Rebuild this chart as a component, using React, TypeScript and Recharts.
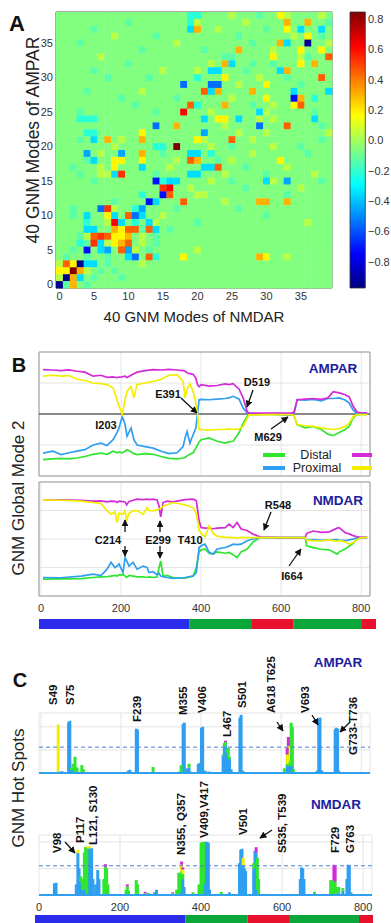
import React from "react";
import {
  Bar,
  BarChart,
  CartesianGrid,
  Line,
  LineChart,
  ReferenceArea,
  ReferenceLine,
  Scatter,
  ScatterChart,
  XAxis,
  YAxis,
} from "recharts";

const FONT = "'Liberation Sans', Arial, sans-serif";
const C_GREEN = "#2ee62e";
const C_BLUE = "#2f9ff0";
const C_MAGENTA = "#d42ad8";
const C_YELLOW = "#f2ee00";
const C_TITLE = "#1c1ca0";

// ---------- panel A: overlap of 40 GNM modes (rows listed from mode 39 down to mode 0)
const HEAT_CODES = "abcdefghijklmno";
const HEAT_LEVELS = [-0.95, -0.72, -0.55, -0.45, -0.35, -0.22, -0.13, -0.06, 0.04, 0.18, 0.3, 0.45, 0.53, 0.62, 0.85];
const HEAT_ROWS = [
  "hhhhh hhhhh hhhhh hhhhf fhhhh ihhhg hhjih hhhih",
  "hhhhh hhhhh ghhhh hhhhf ihhhh hhihh hhhkh hkhhg",
  "hhhhh ghhhh hhhhh hhhhe khhih hhhhh ghhjh ehheh",
  "hhhhh hhhih hhhhg hhhhh hhhhh hghhh hhhhi hjhgh",
  "hhhgh hhhhh hhhhh hhihh hhhhh hhhgh hhkeh hahhi",
  "hhhhh hhhhh hhghh hhhhh hghhh hkhhh hihhh jhhjh",
  "hhhhh hihhh hhhhh hhhhh hhhhg ghhhh hjhhh ighhl",
  "hhhhh hhhhh ghhhh hhhhh hhihk ehhgh hghhh jhkhh",
  "hhhhh ghhhh hhhhh ihhhh iheeh hhghh hhekh hhhhh",
  "hhhhh hhghh hhhgh hhhhh fhhhj hhhhi hhhgh hhhlh",
  "hhhhh hhhhh hhhhh hhhch hhcch hihhh jhhhh ghhhh",
  "hhhhg hhhhh hhihh hhhhh hlekh hhhkh hhhhe hhhhe",
  "hhhhh hhhhg hhhhh hhghh hhhhh ihhhh jhhhb khfhh",
  "hhhhh hhhhh hghhh hhhhl fhhhk hhhgh hihhj lhhhh",
  "hhhgh hhhhh hhhhg hhhnh hhihh hhhhe ihhhh hhghh",
  "hhhff fhhhh hhhhh hhhhh hehjj hehhi hihhh hhehh",
  "hhhhh hhhhh hhhhc hhkhh hhhhi hhhhc hhhlh hhhgh",
  "hhhhf fhhhh hhjhh hhhhh hdhhh hihhh ihhhh hhhhi",
  "hhhgh ehkhi hhkhh hhhhh jihhh lhhih hhhhh hhhgh",
  "hhhhh hhhih hhhhf fhohh hhihh ghhhh hihhh ghhhh",
  "hhhhd hihhd hhkhh ghhhe ehfhh hhhih hhhhh hghhh",
  "hhhhg ehhjj hhjhh hhihl khhgh ihhhh hhjhh hhhhh",
  "hhghh hihjh hhehh hihhh heelh hhghh hhhih hhhhh",
  "hhhgh hiiem hhhhg hhhhe ehhhi hhhhh ghhhh hhihh",
  "hhhhh ghhhh hhhhb feehh hhihh ghhhh eihdh hhhgh",
  "hhhhh hhhhh hhhhh mnhhi hhhhh hhghh hhhhh ihhhh",
  "hhhhh hhhhh hhfhh blhhh iihhh hhhhh hhhgh hhhhh",
  "hhhhh hhhgh hhhbe hhhlh hhhhi hhhhk khhkh hhhhh",
  "hhghh hcmih hfdhh hhghh hhhhh hghhh hhhhh hhhhh",
  "hhghe hhjeh lcehh ihhhh hhhhh hhhhh ghhhh hhhhh",
  "hhhhf hhine hfhei hhhhh ghhhh hhhhh hhhhh hihhh",
  "hhhhe ehhkj llgle hghhh hhhhh hhhhh hhhhh hhhhh",
  "hhhgi lmljj khihg hhhhh hhhhh hhhhh hhhhh hhhhh",
  "hhhfg meijk lhihg hhhhh hhhhh hhhhh hhhhh hhhhh",
  "hhghb hedhl dihgh hhhhh ihhhh hhhhh hhhhh hhhhh",
  "hghhg hhghh echlf hhhjh hhhhh hhhhk jhhih hhhhh",
  "iljae ehghh hhihh hhhhh hhhhh hhhhh hhhhh hhhhh",
  "jjoki hghgh hhhhh hhhhh hhhhh hhhhh hhhhh hhhhh",
  "iakeh ghhhg hhhhh hhhhh hhhhh hhhhh hhhhh hhhhh",
  "agkhg hhhhh hhhhh hhhhh hhhhh hhhhh hhhhh hhhhh",
];
const HEAT_TICKS = [0, 5, 10, 15, 20, 25, 30, 35];
const CBAR_RANGE = [-0.973, 0.847];
const CBAR_TICKS = [-0.8, -0.6, -0.4, -0.2, 0, 0.2, 0.4, 0.6, 0.8];

// ---------- panel B: GNM global mode 2
const B_AMPAR_RES = [5, 30, 50, 70, 90, 110, 130, 150, 165, 180, 190, 195, 203, 210, 215, 225, 232, 240, 260, 280, 300, 320, 340, 355, 360, 365, 372, 380, 387, 391, 395, 400, 420, 440, 460, 470, 480, 495, 505, 515, 520, 560, 600, 625, 632, 640, 660, 680, 700, 717, 730, 745, 760, 770, 780, 790, 800, 815];
const B_AMPAR_MAGENTA = [1.43, 1.42, 1.4, 1.42, 1.38, 1.35, 1.22, 1.25, 1.18, 1.2, 1.17, 1.19, 1.2, 1.22, 1.18, 1.25, 1.3, 1.35, 1.4, 1.43, 1.42, 1.44, 1.42, 1.4, 1.38, 1.33, 1.3, 1.28, 1.15, 0.95, 0.88, 0.95, 0.9, 0.92, 0.97, 0.95, 0.98, 0.8, 0.52, 0.08, 0.03, 0.03, 0.03, 0.03, 0.05, 0.46, 0.48, 0.5, 0.47, 0.52, 0.72, 0.68, 0.62, 0.55, 0.25, 0.06, 0.04, 0.04];
const B_AMPAR_YELLOW = [1.22, 1.25, 1.22, 1.24, 1.12, 1.08, 1.0, 0.98, 0.95, 0.84, 0.46, 0.25, 0.0, 0.46, 0.73, 0.89, 0.52, 0.95, 1.0, 1.05, 1.12, 1.25, 1.27, 1.05, 0.52, 0.8, 0.97, 0.73, 0.35, 0.0, -0.5, -0.5, -0.52, -0.5, -0.5, -0.48, -0.5, -0.48, -0.4, -0.15, -0.03, -0.02, -0.02, -0.02, -0.05, -0.34, -0.38, -0.4, -0.45, -0.48, -0.5, -0.47, -0.4, -0.3, -0.08, -0.02, -0.02, -0.02];
const B_AMPAR_BLUE = [-1.26, -1.2, -1.31, -1.25, -1.2, -1.15, -1.0, -0.94, -1.02, -0.83, -0.6, -0.45, -0.08, -0.34, -0.72, -0.45, -0.83, -1.0, -1.05, -1.1, -1.2, -1.28, -1.25, -1.05, -0.77, -0.56, -0.94, -0.67, -0.45, 0.0, 0.46, 0.47, 0.46, 0.48, 0.5, 0.52, 0.57, 0.48, 0.19, 0.03, 0.01, 0.0, -0.02, -0.04, 0.0, 0.46, 0.45, 0.47, 0.42, 0.5, 0.5, 0.52, 0.45, 0.35, 0.12, 0.02, 0.01, 0.01];
const B_AMPAR_GREEN = [-1.47, -1.45, -1.43, -1.45, -1.42, -1.37, -1.3, -1.26, -1.3, -1.2, -1.25, -1.22, -1.25, -1.2, -1.15, -1.22, -1.28, -1.31, -1.28, -1.3, -1.37, -1.43, -1.45, -1.42, -1.4, -1.35, -1.3, -1.25, -1.1, -1.0, -0.9, -0.83, -0.77, -0.88, -0.94, -0.9, -0.88, -0.6, -0.3, -0.08, -0.02, -0.01, -0.01, -0.01, -0.05, -0.34, -0.45, -0.4, -0.5, -0.65, -0.7, -0.6, -0.5, -0.4, -0.12, -0.02, -0.01, -0.01];

const B_NMDAR_RES = [5, 50, 100, 130, 150, 165, 175, 185, 190, 195, 205, 210, 214, 220, 230, 240, 255, 265, 270, 280, 290, 295, 299, 305, 315, 330, 360, 380, 388, 395, 400, 410, 420, 430, 440, 460, 470, 480, 490, 500, 515, 530, 548, 600, 660, 664, 680, 700, 720, 740, 745, 760, 770, 780, 790, 800, 815];
const B_NMDAR_MAGENTA = [1.37, 1.37, 1.36, 1.33, 1.34, 1.3, 1.33, 1.32, 1.28, 1.33, 1.31, 1.3, 1.2, 1.32, 1.36, 1.4, 1.38, 1.4, 1.38, 1.4, 1.37, 1.15, 0.78, 1.28, 1.33, 1.3, 1.38, 1.4, 1.35, 0.64, 0.4, 0.38, 0.38, 0.36, 0.38, 0.4, 0.52, 0.4, 0.58, 0.35, 0.3, 0.17, 0.07, 0.05, 0.05, 0.2, 0.28, 0.23, 0.25, 0.38, 0.4, 0.22, 0.18, 0.12, 0.08, 0.06, 0.06];
const B_NMDAR_YELLOW = [1.37, 1.36, 1.33, 1.28, 1.25, 0.99, 0.87, 0.95, 0.58, 0.9, 0.87, 1.0, 0.64, 0.9, 0.99, 1.0, 0.87, 1.1, 1.0, 0.99, 1.02, 1.05, 1.08, 1.15, 1.2, 1.28, 1.2, 1.1, 0.9, 0.3, 0.2, 0.08, 0.46, 0.2, 0.1, 0.06, 0.06, 0.05, 0.04, 0.06, 0.05, 0.05, 0.05, 0.05, 0.05, -0.04, -0.06, -0.07, -0.03, -0.08, -0.05, -0.1, -0.18, -0.12, -0.02, 0.05, 0.06];
const B_NMDAR_BLUE = [-1.35, -1.36, -1.3, -1.23, -1.28, -1.06, -0.82, -1.0, -0.95, -0.88, -1.18, -0.65, -0.77, -0.95, -0.82, -1.06, -0.95, -1.0, -1.18, -1.15, -1.25, -1.2, -1.3, -1.32, -1.35, -1.38, -1.35, -1.3, -1.18, -0.3, -0.24, -0.18, -0.47, -0.53, -0.35, -0.3, -0.25, -0.18, -0.2, -0.18, -0.06, 0.0, 0.05, 0.05, 0.05, -0.03, -0.02, -0.05, -0.03, -0.02, -0.04, -0.06, -0.03, 0.0, 0.04, 0.06, 0.06];
const B_NMDAR_GREEN = [-1.41, -1.4, -1.39, -1.35, -1.33, -1.32, -1.3, -1.28, -1.3, -1.26, -1.25, -1.3, -1.35, -1.28, -1.3, -1.33, -1.33, -1.35, -1.33, -1.35, -1.33, -1.0, -0.77, -1.3, -1.28, -1.35, -1.37, -1.3, -1.0, -0.45, -0.38, -0.36, -0.5, -0.53, -0.45, -0.5, -0.47, -0.55, -0.65, -0.45, -0.35, -0.1, 0.05, 0.05, 0.05, -0.24, -0.3, -0.36, -0.38, -0.53, -0.45, -0.35, -0.25, -0.15, 0.0, 0.05, 0.06];

// ---------- panel C: GNM hot spots (stack: proximal-blue, distal-green, yellow, magenta)
const HS_AMPAR_RES = [43, 52, 69, 72, 76, 80, 85, 90, 102, 106, 218, 222, 238, 241, 280, 330, 345, 350, 355, 358, 365, 370, 374, 393, 398, 401, 404, 410, 420, 455, 458, 461, 464, 468, 471, 475, 497, 500, 504, 530, 608, 615, 618, 621, 625, 628, 631, 690, 694, 697, 700, 705, 735, 738, 741, 744];
const HS_AMPAR_BLUE = [0.03, 0.04, 1.1, 1.13, 0.06, 0.12, 0.03, 0, 0, 0, 0.05, 0.07, 0.96, 0.94, 0, 0, 0, 0.02, 1.06, 1.09, 0.1, 0.12, 0, 0.2, 0.22, 0.98, 1.0, 0.05, 0.03, 0.38, 0.55, 0.62, 0.45, 0.35, 0.3, 0.08, 1.2, 1.26, 0.05, 0, 0, 0.15, 0.2, 0.15, 0.2, 0.15, 0.03, 0.05, 1.18, 1.2, 0.06, 0.03, 0.95, 0.98, 0.96, 0.05];
const HS_AMPAR_GREEN = [0, 0, 0, 0, 0.05, 0.08, 0.32, 0.12, 0.17, 0.08, 0, 0, 0, 0, 0.13, 0.02, 0.03, 0.15, 0, 0, 0, 0.08, 0.03, 0, 0, 0, 0, 0, 0, 0.02, 0.1, 0.05, 0.05, 0.2, 0.05, 0, 0, 0, 0, 0.02, 0.1, 0.05, 0.05, 0.05, 0.89, 0.85, 0.05, 0, 0, 0, 0, 0, 0, 0, 0, 0];
const HS_AMPAR_YELLOW = [1.02, 0, 0, 0, 0, 0, 0, 0, 0, 0, 0, 0, 0, 0, 0, 0, 0, 0, 0, 0, 0, 0, 0, 0, 0, 0, 0, 0, 0, 0, 0, 0, 0, 0, 0, 0, 0, 0, 0, 0, 0, 0.2, 0.33, 0, 0, 0, 0, 0, 0, 0, 0, 0, 0, 0, 0, 0];
const HS_AMPAR_MAGENTA = [0, 0, 0, 0, 0, 0, 0, 0, 0, 0, 0, 0, 0, 0, 0, 0, 0, 0, 0, 0, 0, 0, 0, 0, 0, 0, 0, 0, 0, 0, 0, 0.03, 0, 0, 0, 0, 0, 0, 0, 0, 0, 0.15, 0.2, 0, 0, 0, 0, 0, 0, 0, 0, 0, 0, 0, 0, 0];

const HS_NMDAR_RES = [38, 42, 92, 96, 99, 103, 107, 112, 115, 118, 121, 124, 127, 130, 133, 140, 145, 148, 160, 164, 167, 170, 215, 218, 221, 240, 243, 262, 270, 285, 290, 330, 340, 345, 348, 352, 355, 358, 380, 395, 400, 403, 406, 409, 412, 415, 418, 421, 450, 470, 495, 498, 501, 504, 507, 510, 530, 533, 536, 539, 542, 645, 648, 651, 654, 680, 720, 724, 728, 731, 735, 740, 750, 760, 763, 766, 770];
const HS_NMDAR_BLUE = [0.22, 0.23, 0.2, 0.79, 0.5, 0.25, 0.1, 0.1, 0.3, 0, 0.88, 0.88, 0.75, 0.88, 0.3, 0.2, 0.47, 0.3, 0, 0, 0, 0, 0, 0, 0, 0, 0, 0, 0, 0.05, 0.1, 0, 0, 0, 0.05, 0.4, 0.3, 0.15, 0, 0, 0, 0, 0.2, 1.0, 1.0, 1.0, 0.98, 0.1, 0, 0.05, 0.6, 0.85, 0.87, 0.55, 0.5, 0.45, 0.5, 0.83, 0.8, 0.1, 0, 0.3, 0.52, 0.5, 0.3, 0, 0, 0, 0, 0, 0, 0.05, 0.08, 0.3, 0.57, 0.55, 0.05];
const HS_NMDAR_GREEN = [0, 0, 0, 0, 0, 0.1, 0.2, 0.7, 0.6, 0.9, 0, 0, 0, 0, 0, 0, 0, 0, 0.3, 0.53, 0.5, 0.2, 0.1, 0.16, 0.08, 0.28, 0.2, 0.03, 0.04, 0, 0, 0.03, 0.1, 0.42, 0.35, 0.05, 0.1, 0, 0.05, 0.2, 0.98, 1.0, 0.8, 0, 0, 0, 0, 0, 0.06, 0, 0, 0, 0, 0, 0, 0, 0.1, 0, 0, 0.6, 0.3, 0, 0, 0, 0, 0.06, 0.28, 0.28, 0.28, 0.25, 0.15, 0.1, 0.05, 0, 0, 0, 0];
const HS_NMDAR_YELLOW = [0, 0, 0, 0.06, 0, 0, 0, 0, 0, 0, 0.04, 0.04, 0, 0, 0, 0, 0, 0, 0, 0, 0, 0, 0, 0, 0, 0, 0, 0, 0, 0, 0, 0, 0, 0, 0, 0.12, 0.08, 0, 0, 0, 0, 0, 0, 0, 0, 0, 0, 0, 0, 0, 0, 0, 0, 0.15, 0, 0, 0, 0, 0, 0, 0, 0, 0, 0, 0, 0, 0, 0, 0, 0, 0, 0, 0, 0, 0, 0, 0];
const HS_NMDAR_MAGENTA = [0, 0, 0, 0, 0, 0, 0, 0, 0, 0, 0, 0, 0, 0, 0, 0, 0, 0, 0, 0.05, 0, 0, 0, 0.04, 0, 0, 0, 0.03, 0, 0, 0, 0.02, 0, 0, 0, 0.06, 0.04, 0, 0, 0, 0, 0, 0, 0, 0, 0, 0, 0, 0, 0, 0, 0, 0, 0, 0, 0, 0, 0, 0.1, 0, 0, 0, 0, 0, 0, 0, 0, 0, 0.29, 0.3, 0, 0, 0, 0, 0, 0, 0];

// domain map strip under panels B and C
const DOMAIN_LENGTHS = [375, 155, 105, 172, 35];
const DOMAIN_COLORS = ["#2b2bea", "#0aa83a", "#e8112d", "#0aa83a", "#e8112d"];
const AXIS_TICKS = [0, 200, 400, 600, 800];

// ---------- helpers
function jet(v: number) {
  const t = Math.min(1, Math.max(0, (v - CBAR_RANGE[0]) / (CBAR_RANGE[1] - CBAR_RANGE[0])));
  const ch = (x: number) => Math.round(255 * Math.min(1, Math.max(0, 1.5 - Math.abs(x))));
  return `rgb(${ch(4 * t - 3)},${ch(4 * t - 2)},${ch(4 * t - 1)})`;
}

const heatData = HEAT_ROWS.flatMap((row, i) =>
  row
    .replace(/ /g, "")
    .split("")
    .map((code, c) => ({ x: c, y: HEAT_ROWS.length - 1 - i, v: HEAT_LEVELS[HEAT_CODES.indexOf(code)] }))
);

const CELL = 276 / 40;
const HeatCell = (props: any) => {
  const { cx, cy, payload } = props;
  return <rect x={cx - CELL / 2} y={cy - CELL / 2} width={CELL + 0.4} height={CELL + 0.4} fill={jet(payload.v)} />;
};

// hot-spot spikes: keep the library's x/height, draw at a fixed 3px width
const SPIKE_W = 3;
const Spike = (props: any) => {
  const { x, y, width, height, fill } = props;
  if (!height || height <= 0) return null;
  return <rect x={x + width / 2 - SPIKE_W / 2} y={y} width={SPIKE_W} height={height} fill={fill} />;
};

const modeRows = (res: number[], g: number[], b: number[], m: number[], y: number[]) =>
  res.map((r, i) => ({ res: r, g: g[i], b: b[i], m: m[i], y: y[i] }));

const ampMode = modeRows(B_AMPAR_RES, B_AMPAR_GREEN, B_AMPAR_BLUE, B_AMPAR_MAGENTA, B_AMPAR_YELLOW);
const nmdaMode = modeRows(B_NMDAR_RES, B_NMDAR_GREEN, B_NMDAR_BLUE, B_NMDAR_MAGENTA, B_NMDAR_YELLOW);
const ampHot = modeRows(HS_AMPAR_RES, HS_AMPAR_GREEN, HS_AMPAR_BLUE, HS_AMPAR_MAGENTA, HS_AMPAR_YELLOW);
const nmdaHot = modeRows(HS_NMDAR_RES, HS_NMDAR_GREEN, HS_NMDAR_BLUE, HS_NMDAR_MAGENTA, HS_NMDAR_YELLOW);

const domainRow = [Object.fromEntries([["k", "dom"], ...DOMAIN_LENGTHS.map((len, i) => [`s${i}`, len])])];
const DOMAIN_TOTAL = DOMAIN_LENGTHS.reduce((a, b) => a + b, 0);

const tickStyle = { fontSize: 11, fill: "#333", fontFamily: FONT };

function ModePanel({ data, top, height, bottom, showTicks, zeroLine }: any) {
  return (
    <div style={{ position: "absolute", left: 0, top }}>
      <LineChart width={391} height={height} data={data} margin={{ top: 12, right: 21, bottom, left: 39 }}>
        <CartesianGrid stroke="#e4e4e4" />
        <XAxis
          dataKey="res"
          type="number"
          domain={[-5, 822]}
          ticks={showTicks ? AXIS_TICKS : [200, 400, 600, 800]}
          hide={!showTicks}
          height={20}
          axisLine={false}
          tickLine={false}
          tick={tickStyle}
        />
        <YAxis type="number" domain={[-2, 2]} ticks={[-1, 0, 1]} hide />
        <ReferenceArea x1={-5} x2={822} y1={-2} y2={2} fill="none" stroke="#9a9a9a" />
        {zeroLine && <ReferenceLine y={0} stroke="#222" strokeWidth={1.2} />}
        <Line dataKey="g" stroke={C_GREEN} strokeWidth={1.7} dot={false} isAnimationActive={false} />
        <Line dataKey="b" stroke={C_BLUE} strokeWidth={1.7} dot={false} isAnimationActive={false} />
        <Line dataKey="m" stroke={C_MAGENTA} strokeWidth={1.7} dot={false} isAnimationActive={false} />
        <Line dataKey="y" stroke={C_YELLOW} strokeWidth={1.7} dot={false} isAnimationActive={false} />
      </LineChart>
    </div>
  );
}

function HotSpotPanel({ data, top, height, bottom, right, yMax, threshold, xDomain, showTicks }: any) {
  return (
    <div style={{ position: "absolute", left: 0, top }}>
      <BarChart width={391} height={height} data={data} margin={{ top: 13, right, bottom, left: 39 }}>
        <CartesianGrid stroke="#e4e4e4" />
        <XAxis
          dataKey="res"
          type="number"
          domain={xDomain}
          ticks={AXIS_TICKS}
          hide={!showTicks}
          height={20}
          axisLine={false}
          tickLine={false}
          tick={tickStyle}
        />
        <YAxis type="number" domain={[0, yMax]} ticks={[0.5, 1]} hide />
        <ReferenceLine y={0} stroke={C_BLUE} strokeWidth={2} />
        <ReferenceLine y={threshold} stroke="#4d7fd6" strokeDasharray="4 3" />
        <Bar dataKey="b" stackId="h" fill={C_BLUE} shape={Spike} isAnimationActive={false} />
        <Bar dataKey="g" stackId="h" fill={C_GREEN} shape={Spike} isAnimationActive={false} />
        <Bar dataKey="y" stackId="h" fill={C_YELLOW} shape={Spike} isAnimationActive={false} />
        <Bar dataKey="m" stackId="h" fill={C_MAGENTA} shape={Spike} isAnimationActive={false} />
      </BarChart>
    </div>
  );
}

function DomainStrip({ left, top, width }: any) {
  return (
    <div style={{ position: "absolute", left, top }}>
      <BarChart width={width} height={10} data={domainRow} layout="vertical" margin={{ top: 0, right: 0, bottom: 0, left: 0 }} barCategoryGap={0}>
        <XAxis type="number" domain={[0, DOMAIN_TOTAL]} hide />
        <YAxis type="category" dataKey="k" hide />
        {DOMAIN_LENGTHS.map((_, i) => (
          <Bar key={i} dataKey={`s${i}`} stackId="d" fill={DOMAIN_COLORS[i]} isAnimationActive={false} />
        ))}
      </BarChart>
    </div>
  );
}

const B_LABELS = [
  ["I203", 106, 425],
  ["E391", 168, 394],
  ["D519", 257, 382],
  ["M629", 268, 437],
  ["R548", 278, 505],
  ["I664", 292, 576],
  ["C214", 108, 540],
  ["E299", 158, 540],
  ["T410", 190, 540],
];
const ARROWS = [
  [181, 398, 197, 413],
  [253, 390, 247, 407],
  [271, 429, 288, 417],
  [271, 512, 264, 530],
  [289, 566, 301, 549],
  [125, 532, 125, 520],
  [125, 546, 125, 556],
  [160, 532, 160, 521],
  [160, 546, 160, 558],
  [277, 722, 283, 731],
  [312, 715, 318, 725],
  [350, 722, 340, 732],
  [65, 842, 75, 853],
  [272, 830, 260, 838],
];
const C_AMPAR_LABELS = [
  ["S49", 53, 705],
  ["S75", 70, 705],
  ["F239", 137, 722],
  ["M355", 183, 715],
  ["V406", 202, 713],
  ["L467", 227, 737],
  ["S501", 242, 708],
  ["A618 T625", 271, 713],
  ["V693", 305, 713],
  ["G733-T736", 353, 755],
];
const C_NMDAR_LABELS = [
  ["V98", 57, 853],
  ["P117", 80, 843],
  ["L121, S130", 93, 845],
  ["N355, Q357", 181, 855],
  ["V409,V417", 204, 838],
  ["V501", 243, 835],
  ["S535, T539", 282, 853],
  ["F729", 335, 853],
  ["G763", 350, 853],
];

function Overlay() {
  const bold = { fontFamily: FONT, fontWeight: 700, fill: "#111" } as const;
  const title = { fontFamily: FONT, fontWeight: 700, fill: C_TITLE, fontSize: 13.5 } as const;
  const axisTitle = { fontFamily: FONT, fill: "#222" } as const;
  const vtext = (t: string, x: number, y: number, size: number, style: any, anchor: "start" | "middle") => (
    <text key={t + x} transform={`translate(${x},${y}) rotate(-90)`} textAnchor={anchor} dominantBaseline="central" fontSize={size} style={style}>
      {t}
    </text>
  );
  return (
    <svg width={391} height={923} style={{ position: "absolute", left: 0, top: 0, pointerEvents: "none" }}>
      <defs>
        <marker id="ah" viewBox="0 0 10 10" refX="9" refY="5" markerWidth="7" markerHeight="7" orient="auto" markerUnits="userSpaceOnUse">
          <path d="M0,0 L10,5 L0,10 z" fill="#111" />
        </marker>
      </defs>
      <text x={17} y={31} textAnchor="middle" fontSize={22} style={bold}>A</text>
      <text x={19} y={372} textAnchor="middle" fontSize={20} style={bold}>B</text>
      <text x={20} y={687} textAnchor="middle" fontSize={20} style={bold}>C</text>

      {vtext("40 GNM Modes of AMPAR", 33, 140, 17.5, axisTitle, "middle")}
      <text x={194} y={322} textAnchor="middle" fontSize={15} style={axisTitle}>40 GNM Modes of NMDAR</text>
      {vtext("GNM Global Mode 2", 18, 498, 17, axisTitle, "middle")}
      {vtext("GNM Hot Spots", 18, 788, 17, axisTitle, "middle")}

      <text x={333} y={368} textAnchor="middle" dominantBaseline="central" style={title}>AMPAR</text>
      <text x={338} y={500} textAnchor="middle" dominantBaseline="central" style={title}>NMDAR</text>
      <text x={338} y={662} textAnchor="middle" dominantBaseline="central" style={title}>AMPAR</text>
      <text x={336} y={804} textAnchor="middle" dominantBaseline="central" style={title}>NMDAR</text>

      {B_LABELS.map(([t, x, y]) => (
        <text key={t as string} x={x as number} y={y as number} textAnchor="middle" dominantBaseline="central" fontSize={11} style={bold}>
          {t}
        </text>
      ))}
      {ARROWS.map(([x1, y1, x2, y2], i) => (
        <line key={i} x1={x1} y1={y1} x2={x2} y2={y2} stroke="#111" strokeWidth={1.3} markerEnd="url(#ah)" />
      ))}
      {C_AMPAR_LABELS.map(([t, x, y]) => vtext(t as string, x as number, y as number, 11.5, bold, "start"))}
      {C_NMDAR_LABELS.map(([t, x, y]) => vtext(t as string, x as number, y as number, 11.5, bold, "start"))}

      {/* legend of panel B */}
      <line x1={263} y1={455} x2={285} y2={455} stroke={C_GREEN} strokeWidth={4} />
      <line x1={352} y1={455} x2={372} y2={455} stroke={C_MAGENTA} strokeWidth={4} />
      <line x1={263} y1={468} x2={285} y2={468} stroke={C_BLUE} strokeWidth={4} />
      <line x1={352} y1={468} x2={372} y2={468} stroke={C_YELLOW} strokeWidth={4} />
      <text x={316} y={455} textAnchor="middle" dominantBaseline="central" fontSize={12.5} style={axisTitle}>Distal</text>
      <text x={317} y={468} textAnchor="middle" dominantBaseline="central" fontSize={12.5} style={axisTitle}>Proximal</text>
    </svg>
  );
}

export default function App() {
  const cbarStops = Array.from({ length: 9 }, (_, i) => i / 8);
  return (
    <div style={{ position: "absolute", left: 0, top: 0, width: 391, height: 923, background: "#fff", fontFamily: FONT }}>
      {/* panel A heatmap */}
      <div style={{ position: "absolute", left: 0, top: 0 }}>
        <ScatterChart width={340} height={310} margin={{ top: 12, right: 8, bottom: 2, left: 26 }}>
          <XAxis dataKey="x" type="number" domain={[-0.5, 39.5]} ticks={HEAT_TICKS} height={20} axisLine={false} tickLine={false} tickSize={2} tick={tickStyle} />
          <YAxis dataKey="y" type="number" domain={[-0.5, 39.5]} ticks={HEAT_TICKS} width={30} axisLine={false} tickLine={false} tickSize={2} tickMargin={1} tick={tickStyle} />
          <Scatter data={heatData} shape={HeatCell} isAnimationActive={false} />
          <ReferenceArea x1={-0.5} x2={39.5} y1={-0.5} y2={39.5} fill="none" stroke="#555" />
        </ScatterChart>
      </div>
      {/* colour bar */}
      <div style={{ position: "absolute", left: 339, top: 0 }}>
        <BarChart width={52} height={300} data={[{ k: "c", range: CBAR_RANGE }]} margin={{ top: 12, right: 0, bottom: 12, left: 10 }}>
          <defs>
            <linearGradient id="jetGrad" x1="0" y1="1" x2="0" y2="0">
              {cbarStops.map((t) => (
                <stop key={t} offset={`${t * 100}%`} stopColor={jet(CBAR_RANGE[0] + t * (CBAR_RANGE[1] - CBAR_RANGE[0]))} />
              ))}
            </linearGradient>
          </defs>
          <XAxis dataKey="k" hide />
          <YAxis
            orientation="right"
            type="number"
            domain={CBAR_RANGE}
            ticks={CBAR_TICKS}
            width={25}
            axisLine={false}
            tickLine={false}
            tickSize={0}
            tickMargin={2}
            tick={tickStyle}
            tickFormatter={(v: number) => (v < 0 ? `\u2212${Math.abs(v).toFixed(1)}` : v.toFixed(1))}
          />
          <Bar dataKey="range" barSize={17} fill="url(#jetGrad)" stroke="#333" strokeWidth={0.8} isAnimationActive={false} />
        </BarChart>
      </div>

      {/* panel B */}
      <ModePanel data={ampMode} top={340} height={150} bottom={14} showTicks={false} zeroLine />
      <ModePanel data={nmdaMode} top={470} height={150} bottom={4} showTicks zeroLine={false} />
      <DomainStrip left={39} top={619} width={337} />

      {/* panel C */}
      <HotSpotPanel data={ampHot} top={700} height={80} bottom={7} right={21} yMax={1.3} threshold={0.56} xDomain={[-5, 822]} showTicks={false} />
      <HotSpotPanel data={nmdaHot} top={822} height={95} bottom={2} right={19} yMax={1.13} threshold={0.55} xDomain={[0, 822]} showTicks />
      <DomainStrip left={35} top={915} width={338} />

      <Overlay />
    </div>
  );
}
